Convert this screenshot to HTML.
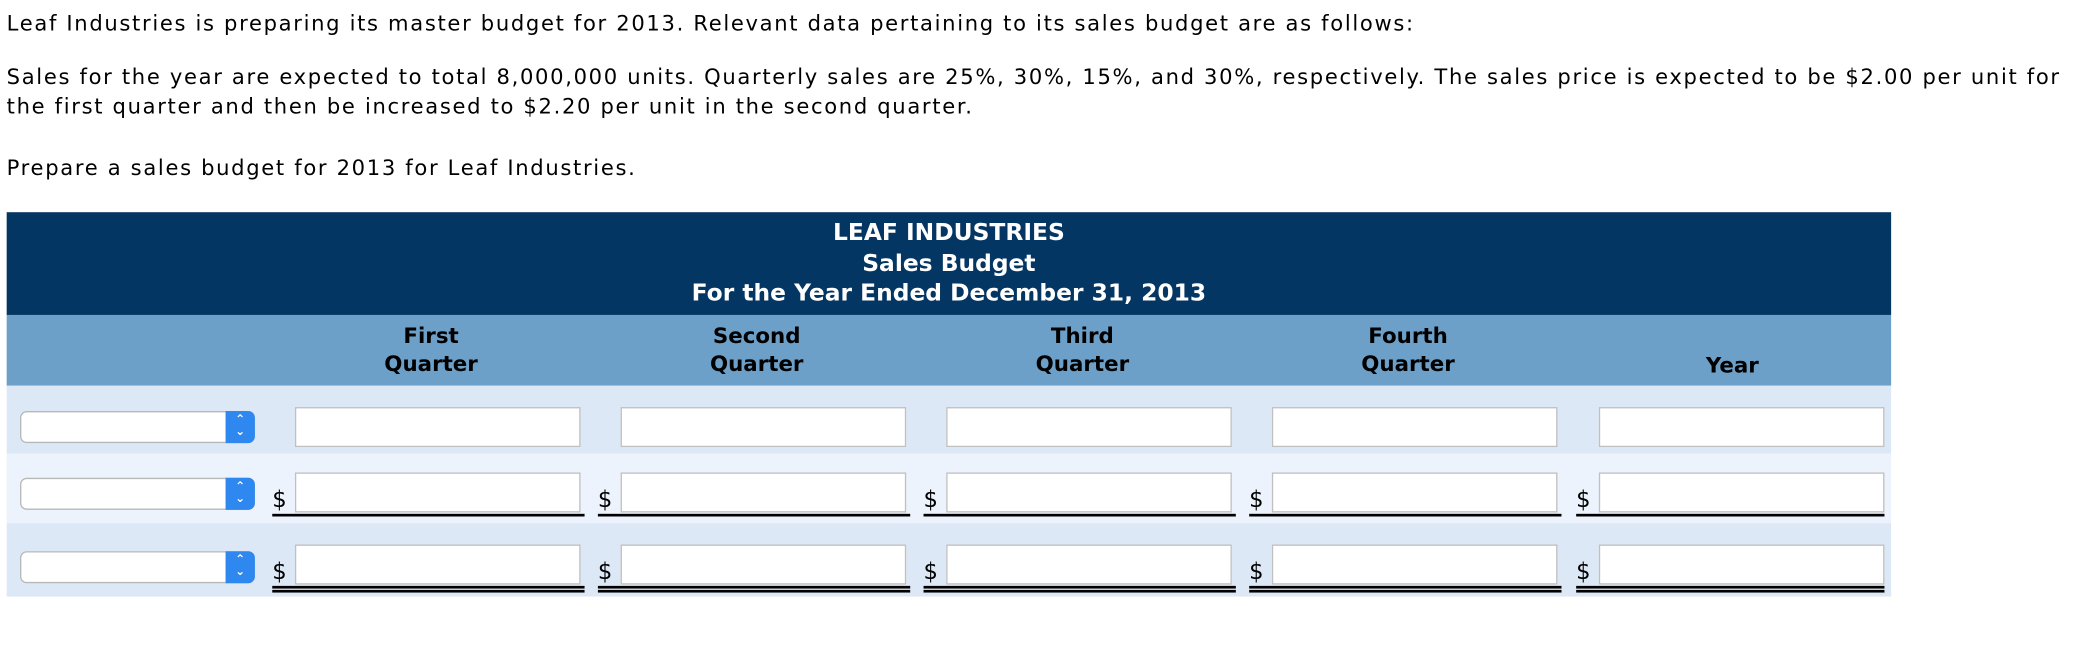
<!DOCTYPE html>
<html><head><meta charset="utf-8"><style>
html,body{margin:0;padding:0;background:#fff;width:2082px;height:644px;overflow:hidden}
#wrap{position:absolute;left:0;top:0;width:1560px;height:483px;transform:scale(1.3346);transform-origin:0 0;font-family:"DejaVu Sans","Liberation Sans",sans-serif;color:#000}
.t{position:absolute;left:5px;font-size:15.8px;letter-spacing:1.25px;white-space:nowrap;line-height:22px}
#tbl{position:absolute;left:5px;top:159px;width:1412px;height:288px}
.dark{position:absolute;left:0;top:0;width:100%;height:77px;background:#043663}
.ht{position:absolute;left:0;width:100%;text-align:center;color:#fff;font-weight:bold;font-size:17.5px;line-height:22px}
.light{position:absolute;left:0;top:77px;width:100%;height:53px;background:#6ca0c9}
.ch{position:absolute;text-align:center;font-weight:bold;font-size:16px;line-height:21px;width:200px}
.row{position:absolute;left:0;width:100%}
.sel{position:absolute;left:10px;width:176px;height:24px;border:1px solid #b8b8b8;border-radius:5px;background:#fff;box-sizing:border-box}
.sel b{position:absolute;right:-1px;top:-1px;width:22px;height:24px;background:#2f87f0;border-radius:0 5px 5px 0;color:#fff;font-size:9px;line-height:9px;text-align:center;padding-top:3px;box-sizing:border-box}
.in{position:absolute;width:214px;height:30px;border:1px solid #c0c0c0;background:#fff;box-sizing:border-box}
.d{position:absolute;font-size:17px;line-height:20px}
.ul{position:absolute;height:2px;background:#000}
</style></head><body>
<div id="wrap">
<div class="t" style="top:7px">Leaf Industries is preparing its master budget for 2013. Relevant data pertaining to its sales budget are as follows:</div>
<div class="t" style="top:47px">Sales for the year are expected to total 8,000,000 units. Quarterly sales are 25%, 30%, 15%, and 30%, respectively. The sales price is expected to be $2.00 per unit for</div>
<div class="t" style="top:69px">the first quarter and then be increased to $2.20 per unit in the second quarter.</div>
<div class="t" style="top:115px">Prepare a sales budget for 2013 for Leaf Industries.</div>
<div id="tbl">
 <div class="dark">
  <div class="ht" style="top:5px">LEAF INDUSTRIES</div>
  <div class="ht" style="top:28px">Sales Budget</div>
  <div class="ht" style="top:50px">For the Year Ended December 31, 2013</div>
 </div>
 <div class="light">
  <div class="ch" style="left:218px;top:5px">First<br>Quarter</div>
  <div class="ch" style="left:462px;top:5px">Second<br>Quarter</div>
  <div class="ch" style="left:706px;top:5px">Third<br>Quarter</div>
  <div class="ch" style="left:950px;top:5px">Fourth<br>Quarter</div>
  <div class="ch" style="left:1193px;top:27px">Year</div>
 </div>
</div>
<script>
const tbl=document.getElementById('tbl');
const rows=[{top:130,h:51,bg:'#dde8f6',dollar:false,ul:0},{top:181,h:52,bg:'#ecf3fd',dollar:true,ul:1},{top:233,h:55,bg:'#dde8f6',dollar:true,ul:2}];
const cols=[216,460,704,948,1193];
const names=['first-quarter','second-quarter','third-quarter','fourth-quarter','year'];
rows.forEach((r,i)=>{
 const row=document.createElement('div');row.className='row';
 row.style.top=r.top+'px';row.style.height=r.h+'px';row.style.background=r.bg;
 
 
 const sel=document.createElement('div');sel.className='sel';sel.style.top=(i==0?19:i==1?18:21)+'px';
 sel.innerHTML='<b>&#8963;<br>&#8964;</b>';
 
 
 row.appendChild(sel);
 const it=i==0?16:i==1?14:16;
 cols.forEach((x,j)=>{
  const inp=document.createElement('div');inp.className='in';inp.style.left=x+'px';inp.style.top=it+'px';
  
  
  row.appendChild(inp);
  if(r.dollar){
   const d=document.createElement('div');d.className='d';d.textContent='$';d.style.left=(x-17)+'px';d.style.top=(it+11)+'px';
   
   
   row.appendChild(d);
   const w=x==1193?231:234;
   for(let k=0;k<r.ul;k++){
    const u=document.createElement('div');u.className='ul';u.style.left=(x-17)+'px';u.style.width=w+'px';u.style.top=(it+31+k*3)+'px';
    
    
    row.appendChild(u);
   }
  }
 });
 tbl.appendChild(row);
});
</script>
</div>
</body></html>
